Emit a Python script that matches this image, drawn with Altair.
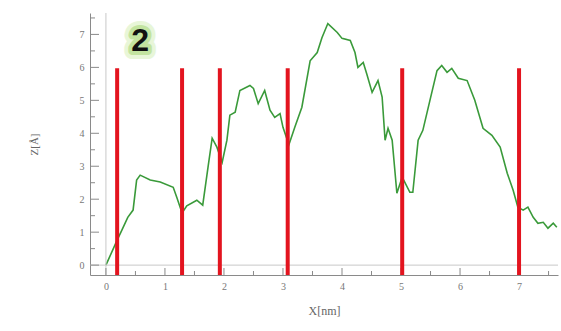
import altair as alt
import pandas as pd

# Green profile (X [nm], Z [Å])
prof_x = [0.0, 0.19, 0.27, 0.37, 0.46, 0.52, 0.58, 0.75, 0.92, 1.14, 1.20, 1.29, 1.37, 1.54, 1.64, 1.73,
          1.80, 1.88, 1.97, 2.05, 2.10, 2.19, 2.27, 2.44, 2.50, 2.58, 2.69, 2.78, 2.86, 2.95, 3.00,
          3.10, 3.20, 3.32, 3.46, 3.58, 3.66, 3.76, 3.92, 4.00, 4.14, 4.22, 4.27, 4.36, 4.42, 4.51,
          4.61, 4.68, 4.73, 4.78, 4.85, 4.93, 5.02, 5.15, 5.20, 5.29, 5.37, 5.49, 5.61, 5.69, 5.78,
          5.86, 5.97, 6.12, 6.25, 6.39, 6.54, 6.68, 6.80, 6.90, 6.98, 7.07, 7.15, 7.24, 7.32, 7.41,
          7.49, 7.58, 7.64]
prof_z = [0.0, 0.76, 1.06, 1.45, 1.67, 2.58, 2.73, 2.58, 2.52, 2.36, 2.06, 1.58, 1.80, 1.97, 1.82, 2.97,
          3.85, 3.58, 3.12, 3.79, 4.55, 4.64, 5.30, 5.45, 5.36, 4.90, 5.30, 4.70, 4.48, 4.60, 4.18,
          3.65, 4.18, 4.79, 6.20, 6.45, 6.90, 7.33, 7.06, 6.88, 6.82, 6.45, 6.00, 6.15, 5.80, 5.24,
          5.60, 5.10, 3.79, 4.15, 3.79, 2.18, 2.67, 2.21, 2.21, 3.79, 4.09, 5.00, 5.90, 6.06, 5.85,
          5.97, 5.67, 5.60, 5.00, 4.15, 3.94, 3.58, 2.79, 2.27, 1.76, 1.67, 1.76, 1.45, 1.27, 1.30,
          1.12, 1.27, 1.15]

# Red markers
marker_x = [0.19, 1.29, 1.93, 3.08, 5.02, 7.0]
marker_top = 5.97

x_major = [0, 1, 2, 3, 4, 5, 6, 7]
x_minor = [-0.5, 0.5, 1.5, 2.5, 3.5, 4.5, 5.5, 6.5, 7.5]
y_major = [0, 1, 2, 3, 4, 5, 6, 7]
y_minor = [-0.5, 0.5, 1.5, 2.5, 3.5, 4.5, 5.5, 6.5, 7.5]

label_text = ["2"]
label_x = [0.58]
label_y = [6.8]

X_DOM = [-0.27, 7.66]
Y_DOM = [-0.3, 7.65]

W, H = 468, 262
serif = "Liberation Serif"
axis_grey = "#8a8a8a"

xs = alt.Scale(domain=X_DOM, nice=False, zero=False)
ys = alt.Scale(domain=Y_DOM, nice=False, zero=False)

ax_x = alt.Axis(values=x_major, format="d", ticks=False, grid=False, domainColor=axis_grey,
                labelFont=serif, labelFontSize=10, labelColor="#777", labelPadding=6,
                labelOverlap=False,
                titleFont=serif, titleFontSize=12, titleColor="#666", titleFontWeight="normal",
                titlePadding=14)
ax_y = alt.Axis(values=y_major, format="d", ticks=False, grid=False, domainColor=axis_grey,
                labelFont=serif, labelFontSize=10, labelColor="#777", labelPadding=6,
                labelOverlap=False,
                titleFont=serif, titleFontSize=11, titleColor="#666", titleFontWeight="normal",
                titlePadding=40)

def X(f):
    return alt.X(f, scale=xs, axis=ax_x, title="X[nm]")

def Y(f):
    return alt.Y(f, scale=ys, axis=ax_y, title="Z[Å]")

prof = pd.DataFrame({"x": prof_x, "z": prof_z})
marks = pd.DataFrame({"x": marker_x, "top": [marker_top] * len(marker_x), "bot": [Y_DOM[0]] * len(marker_x)})

base = alt.Chart(prof).mark_line(color="#3a9a3a", strokeWidth=1.6, clip=True).encode(
    x=X("x:Q"), y=Y("z:Q"))

zero_v = alt.Chart(pd.DataFrame({"x": [0]})).mark_rule(color="#c8c8c8", strokeWidth=1).encode(x=X("x:Q"))
zero_h = alt.Chart(pd.DataFrame({"y": [0]})).mark_rule(color="#c8c8c8", strokeWidth=1).encode(y=Y("y:Q"))

xt_major = alt.Chart(pd.DataFrame({"x": x_major})).mark_rule(color=axis_grey, strokeWidth=1).encode(
    x=X("x:Q"), y=alt.value(H), y2=alt.value(H - 7))
xt_minor = alt.Chart(pd.DataFrame({"x": x_minor})).mark_rule(color=axis_grey, strokeWidth=1, clip=True).encode(
    x=X("x:Q"), y=alt.value(H), y2=alt.value(H - 4))
yt_major = alt.Chart(pd.DataFrame({"y": y_major})).mark_rule(color=axis_grey, strokeWidth=1).encode(
    y=Y("y:Q"), x=alt.value(0), x2=alt.value(9))
yt_minor = alt.Chart(pd.DataFrame({"y": y_minor})).mark_rule(color=axis_grey, strokeWidth=1, clip=True).encode(
    y=Y("y:Q"), x=alt.value(0), x2=alt.value(5))

red = alt.Chart(marks).mark_rule(color="#e3141f", strokeWidth=4).encode(
    x=X("x:Q"), y=Y("top:Q"), y2="bot:Q")

lab = pd.DataFrame({"t": label_text, "x": label_x, "y": label_y})
glow_outer = alt.Chart(lab).mark_text(font="Liberation Sans", fontSize=32, fontWeight="bold",
                                      color="#dff2c8", stroke="#e3f4cf", strokeWidth=16,
                                      strokeJoin="round", opacity=0.8).encode(
    x=X("x:Q"), y=Y("y:Q"), text="t:N")
glow = alt.Chart(lab).mark_text(font="Liberation Sans", fontSize=32, fontWeight="bold",
                                color="#bfe59a", stroke="#bfe39a", strokeWidth=8,
                                strokeJoin="round", opacity=0.9).encode(
    x=X("x:Q"), y=Y("y:Q"), text="t:N")
txt = alt.Chart(lab).mark_text(font="Liberation Sans", fontSize=32, fontWeight="bold",
                               color="#111111").encode(
    x=X("x:Q"), y=Y("y:Q"), text="t:N")

chart = alt.layer(base, zero_v, zero_h, xt_major, xt_minor, yt_major, yt_minor, red,
                  glow_outer, glow, txt).properties(
    width=W, height=H,
    background="white",
    autosize=alt.AutoSizeParams(type="none"),
    padding={"left": 90, "top": 13, "right": 3, "bottom": 56},
).configure_view(stroke=None)

chart.save("out.html", embed_options={"renderer": "svg", "actions": False})
